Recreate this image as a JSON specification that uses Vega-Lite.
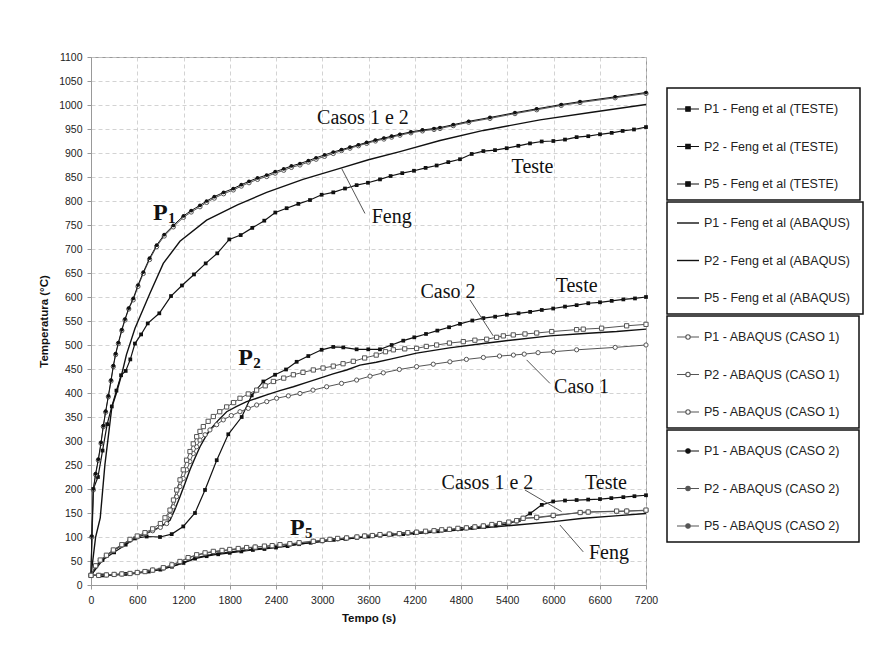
{
  "$schema": "https://vega.github.io/schema/vega-lite/v6.json",
  "width": 555,
  "height": 528,
  "autosize": "none",
  "padding": {"left": 91, "top": 57, "right": 240, "bottom": 73},
  "background": "white",
  "datasets": {
    "teste": [
      {"s":"P1 - Feng et al (TESTE)","t":0,"T":20},{"s":"P1 - Feng et al (TESTE)","t":30,"T":200},{"s":"P1 - Feng et al (TESTE)","t":90,"T":225},{"s":"P1 - Feng et al (TESTE)","t":150,"T":280},{"s":"P1 - Feng et al (TESTE)","t":210,"T":335},{"s":"P1 - Feng et al (TESTE)","t":270,"T":372},{"s":"P1 - Feng et al (TESTE)","t":330,"T":405},{"s":"P1 - Feng et al (TESTE)","t":390,"T":437},{"s":"P1 - Feng et al (TESTE)","t":450,"T":446},{"s":"P1 - Feng et al (TESTE)","t":510,"T":470},{"s":"P1 - Feng et al (TESTE)","t":570,"T":503},{"s":"P1 - Feng et al (TESTE)","t":650,"T":522},{"s":"P1 - Feng et al (TESTE)","t":736,"T":545},{"s":"P1 - Feng et al (TESTE)","t":886,"T":566},{"s":"P1 - Feng et al (TESTE)","t":1038,"T":602},{"s":"P1 - Feng et al (TESTE)","t":1180,"T":624},{"s":"P1 - Feng et al (TESTE)","t":1336,"T":647},{"s":"P1 - Feng et al (TESTE)","t":1488,"T":670},{"s":"P1 - Feng et al (TESTE)","t":1638,"T":691},{"s":"P1 - Feng et al (TESTE)","t":1794,"T":720},{"s":"P1 - Feng et al (TESTE)","t":1942,"T":729},{"s":"P1 - Feng et al (TESTE)","t":2092,"T":744},{"s":"P1 - Feng et al (TESTE)","t":2248,"T":759},{"s":"P1 - Feng et al (TESTE)","t":2391,"T":776},{"s":"P1 - Feng et al (TESTE)","t":2538,"T":785},{"s":"P1 - Feng et al (TESTE)","t":2690,"T":794},{"s":"P1 - Feng et al (TESTE)","t":2841,"T":802},{"s":"P1 - Feng et al (TESTE)","t":2992,"T":813},{"s":"P1 - Feng et al (TESTE)","t":3143,"T":818},{"s":"P1 - Feng et al (TESTE)","t":3295,"T":826},{"s":"P1 - Feng et al (TESTE)","t":3446,"T":833},{"s":"P1 - Feng et al (TESTE)","t":3593,"T":838},{"s":"P1 - Feng et al (TESTE)","t":3749,"T":845},{"s":"P1 - Feng et al (TESTE)","t":3887,"T":852},{"s":"P1 - Feng et al (TESTE)","t":4038,"T":858},{"s":"P1 - Feng et al (TESTE)","t":4190,"T":863},{"s":"P1 - Feng et al (TESTE)","t":4341,"T":869},{"s":"P1 - Feng et al (TESTE)","t":4484,"T":874},{"s":"P1 - Feng et al (TESTE)","t":4635,"T":881},{"s":"P1 - Feng et al (TESTE)","t":4787,"T":887},{"s":"P1 - Feng et al (TESTE)","t":4939,"T":898},{"s":"P1 - Feng et al (TESTE)","t":5090,"T":904},{"s":"P1 - Feng et al (TESTE)","t":5241,"T":906},{"s":"P1 - Feng et al (TESTE)","t":5393,"T":910},{"s":"P1 - Feng et al (TESTE)","t":5544,"T":915},{"s":"P1 - Feng et al (TESTE)","t":5695,"T":920},{"s":"P1 - Feng et al (TESTE)","t":5847,"T":924},{"s":"P1 - Feng et al (TESTE)","t":5998,"T":925},{"s":"P1 - Feng et al (TESTE)","t":6149,"T":928},{"s":"P1 - Feng et al (TESTE)","t":6300,"T":933},{"s":"P1 - Feng et al (TESTE)","t":6451,"T":935},{"s":"P1 - Feng et al (TESTE)","t":6603,"T":939},{"s":"P1 - Feng et al (TESTE)","t":6755,"T":942},{"s":"P1 - Feng et al (TESTE)","t":6897,"T":946},{"s":"P1 - Feng et al (TESTE)","t":7044,"T":949},{"s":"P1 - Feng et al (TESTE)","t":7200,"T":954},
      {"s":"P2 - Feng et al (TESTE)","t":0,"T":20},{"s":"P2 - Feng et al (TESTE)","t":150,"T":52},{"s":"P2 - Feng et al (TESTE)","t":300,"T":68},{"s":"P2 - Feng et al (TESTE)","t":450,"T":84},{"s":"P2 - Feng et al (TESTE)","t":571,"T":97},{"s":"P2 - Feng et al (TESTE)","t":722,"T":101},{"s":"P2 - Feng et al (TESTE)","t":895,"T":100},{"s":"P2 - Feng et al (TESTE)","t":1047,"T":106},{"s":"P2 - Feng et al (TESTE)","t":1197,"T":122},{"s":"P2 - Feng et al (TESTE)","t":1349,"T":150},{"s":"P2 - Feng et al (TESTE)","t":1479,"T":198},{"s":"P2 - Feng et al (TESTE)","t":1631,"T":260},{"s":"P2 - Feng et al (TESTE)","t":1781,"T":314},{"s":"P2 - Feng et al (TESTE)","t":1955,"T":350},{"s":"P2 - Feng et al (TESTE)","t":2085,"T":395},{"s":"P2 - Feng et al (TESTE)","t":2236,"T":424},{"s":"P2 - Feng et al (TESTE)","t":2388,"T":438},{"s":"P2 - Feng et al (TESTE)","t":2530,"T":449},{"s":"P2 - Feng et al (TESTE)","t":2668,"T":465},{"s":"P2 - Feng et al (TESTE)","t":2819,"T":477},{"s":"P2 - Feng et al (TESTE)","t":2992,"T":490},{"s":"P2 - Feng et al (TESTE)","t":3143,"T":496},{"s":"P2 - Feng et al (TESTE)","t":3273,"T":495},{"s":"P2 - Feng et al (TESTE)","t":3446,"T":491},{"s":"P2 - Feng et al (TESTE)","t":3597,"T":491},{"s":"P2 - Feng et al (TESTE)","t":3749,"T":491},{"s":"P2 - Feng et al (TESTE)","t":3900,"T":500},{"s":"P2 - Feng et al (TESTE)","t":4051,"T":509},{"s":"P2 - Feng et al (TESTE)","t":4194,"T":516},{"s":"P2 - Feng et al (TESTE)","t":4346,"T":523},{"s":"P2 - Feng et al (TESTE)","t":4493,"T":530},{"s":"P2 - Feng et al (TESTE)","t":4645,"T":537},{"s":"P2 - Feng et al (TESTE)","t":4787,"T":544},{"s":"P2 - Feng et al (TESTE)","t":4947,"T":551},{"s":"P2 - Feng et al (TESTE)","t":5090,"T":556},{"s":"P2 - Feng et al (TESTE)","t":5243,"T":559},{"s":"P2 - Feng et al (TESTE)","t":5395,"T":563},{"s":"P2 - Feng et al (TESTE)","t":5546,"T":566},{"s":"P2 - Feng et al (TESTE)","t":5697,"T":569},{"s":"P2 - Feng et al (TESTE)","t":5848,"T":573},{"s":"P2 - Feng et al (TESTE)","t":5996,"T":576},{"s":"P2 - Feng et al (TESTE)","t":6149,"T":580},{"s":"P2 - Feng et al (TESTE)","t":6300,"T":583},{"s":"P2 - Feng et al (TESTE)","t":6451,"T":587},{"s":"P2 - Feng et al (TESTE)","t":6603,"T":589},{"s":"P2 - Feng et al (TESTE)","t":6755,"T":592},{"s":"P2 - Feng et al (TESTE)","t":6906,"T":595},{"s":"P2 - Feng et al (TESTE)","t":7057,"T":597},{"s":"P2 - Feng et al (TESTE)","t":7200,"T":600},
      {"s":"P5 - Feng et al (TESTE)","t":0,"T":20},{"s":"P5 - Feng et al (TESTE)","t":150,"T":20},{"s":"P5 - Feng et al (TESTE)","t":300,"T":21},{"s":"P5 - Feng et al (TESTE)","t":450,"T":23},{"s":"P5 - Feng et al (TESTE)","t":600,"T":25},{"s":"P5 - Feng et al (TESTE)","t":750,"T":28},{"s":"P5 - Feng et al (TESTE)","t":900,"T":32},{"s":"P5 - Feng et al (TESTE)","t":1050,"T":38},{"s":"P5 - Feng et al (TESTE)","t":1200,"T":46},{"s":"P5 - Feng et al (TESTE)","t":1350,"T":55},{"s":"P5 - Feng et al (TESTE)","t":1500,"T":60},{"s":"P5 - Feng et al (TESTE)","t":1650,"T":64},{"s":"P5 - Feng et al (TESTE)","t":1800,"T":67},{"s":"P5 - Feng et al (TESTE)","t":1950,"T":70},{"s":"P5 - Feng et al (TESTE)","t":2100,"T":73},{"s":"P5 - Feng et al (TESTE)","t":2250,"T":75},{"s":"P5 - Feng et al (TESTE)","t":2400,"T":78},{"s":"P5 - Feng et al (TESTE)","t":2550,"T":81},{"s":"P5 - Feng et al (TESTE)","t":2700,"T":85},{"s":"P5 - Feng et al (TESTE)","t":2850,"T":88},{"s":"P5 - Feng et al (TESTE)","t":3000,"T":91},{"s":"P5 - Feng et al (TESTE)","t":3150,"T":94},{"s":"P5 - Feng et al (TESTE)","t":3300,"T":96},{"s":"P5 - Feng et al (TESTE)","t":3450,"T":98},{"s":"P5 - Feng et al (TESTE)","t":3600,"T":101},{"s":"P5 - Feng et al (TESTE)","t":3750,"T":103},{"s":"P5 - Feng et al (TESTE)","t":3900,"T":105},{"s":"P5 - Feng et al (TESTE)","t":4050,"T":106},{"s":"P5 - Feng et al (TESTE)","t":4200,"T":108},{"s":"P5 - Feng et al (TESTE)","t":4350,"T":110},{"s":"P5 - Feng et al (TESTE)","t":4500,"T":112},{"s":"P5 - Feng et al (TESTE)","t":4650,"T":115},{"s":"P5 - Feng et al (TESTE)","t":4800,"T":117},{"s":"P5 - Feng et al (TESTE)","t":4950,"T":119},{"s":"P5 - Feng et al (TESTE)","t":5100,"T":121},{"s":"P5 - Feng et al (TESTE)","t":5250,"T":124},{"s":"P5 - Feng et al (TESTE)","t":5400,"T":127},{"s":"P5 - Feng et al (TESTE)","t":5550,"T":135},{"s":"P5 - Feng et al (TESTE)","t":5697,"T":149},{"s":"P5 - Feng et al (TESTE)","t":5848,"T":167},{"s":"P5 - Feng et al (TESTE)","t":5996,"T":174},{"s":"P5 - Feng et al (TESTE)","t":6149,"T":176},{"s":"P5 - Feng et al (TESTE)","t":6300,"T":177},{"s":"P5 - Feng et al (TESTE)","t":6450,"T":178},{"s":"P5 - Feng et al (TESTE)","t":6603,"T":179},{"s":"P5 - Feng et al (TESTE)","t":6750,"T":181},{"s":"P5 - Feng et al (TESTE)","t":6906,"T":183},{"s":"P5 - Feng et al (TESTE)","t":7050,"T":185},{"s":"P5 - Feng et al (TESTE)","t":7200,"T":187}
    ],
    "feng": [
      {"s":"P1 - Feng et al (ABAQUS)","t":0,"T":20},{"s":"P1 - Feng et al (ABAQUS)","t":60,"T":100},{"s":"P1 - Feng et al (ABAQUS)","t":120,"T":140},{"s":"P1 - Feng et al (ABAQUS)","t":180,"T":250},{"s":"P1 - Feng et al (ABAQUS)","t":240,"T":330},{"s":"P1 - Feng et al (ABAQUS)","t":270,"T":370},{"s":"P1 - Feng et al (ABAQUS)","t":330,"T":400},{"s":"P1 - Feng et al (ABAQUS)","t":400,"T":440},{"s":"P1 - Feng et al (ABAQUS)","t":460,"T":480},{"s":"P1 - Feng et al (ABAQUS)","t":571,"T":535},{"s":"P1 - Feng et al (ABAQUS)","t":765,"T":608},{"s":"P1 - Feng et al (ABAQUS)","t":938,"T":670},{"s":"P1 - Feng et al (ABAQUS)","t":1154,"T":716},{"s":"P1 - Feng et al (ABAQUS)","t":1500,"T":760},{"s":"P1 - Feng et al (ABAQUS)","t":1900,"T":792},{"s":"P1 - Feng et al (ABAQUS)","t":2279,"T":818},{"s":"P1 - Feng et al (ABAQUS)","t":2750,"T":845},{"s":"P1 - Feng et al (ABAQUS)","t":3229,"T":868},{"s":"P1 - Feng et al (ABAQUS)","t":3600,"T":886},{"s":"P1 - Feng et al (ABAQUS)","t":4008,"T":903},{"s":"P1 - Feng et al (ABAQUS)","t":4528,"T":926},{"s":"P1 - Feng et al (ABAQUS)","t":5090,"T":947},{"s":"P1 - Feng et al (ABAQUS)","t":5825,"T":969},{"s":"P1 - Feng et al (ABAQUS)","t":6500,"T":985},{"s":"P1 - Feng et al (ABAQUS)","t":7200,"T":1001},
      {"s":"P2 - Feng et al (ABAQUS)","t":0,"T":20},{"s":"P2 - Feng et al (ABAQUS)","t":120,"T":51},{"s":"P2 - Feng et al (ABAQUS)","t":290,"T":72},{"s":"P2 - Feng et al (ABAQUS)","t":506,"T":93},{"s":"P2 - Feng et al (ABAQUS)","t":700,"T":106},{"s":"P2 - Feng et al (ABAQUS)","t":900,"T":121},{"s":"P2 - Feng et al (ABAQUS)","t":1025,"T":135},{"s":"P2 - Feng et al (ABAQUS)","t":1090,"T":158},{"s":"P2 - Feng et al (ABAQUS)","t":1154,"T":184},{"s":"P2 - Feng et al (ABAQUS)","t":1220,"T":212},{"s":"P2 - Feng et al (ABAQUS)","t":1284,"T":240},{"s":"P2 - Feng et al (ABAQUS)","t":1350,"T":265},{"s":"P2 - Feng et al (ABAQUS)","t":1414,"T":288},{"s":"P2 - Feng et al (ABAQUS)","t":1480,"T":307},{"s":"P2 - Feng et al (ABAQUS)","t":1543,"T":323},{"s":"P2 - Feng et al (ABAQUS)","t":1650,"T":343},{"s":"P2 - Feng et al (ABAQUS)","t":1760,"T":361},{"s":"P2 - Feng et al (ABAQUS)","t":1890,"T":372},{"s":"P2 - Feng et al (ABAQUS)","t":2019,"T":382},{"s":"P2 - Feng et al (ABAQUS)","t":2150,"T":389},{"s":"P2 - Feng et al (ABAQUS)","t":2279,"T":396},{"s":"P2 - Feng et al (ABAQUS)","t":2450,"T":405},{"s":"P2 - Feng et al (ABAQUS)","t":2625,"T":413},{"s":"P2 - Feng et al (ABAQUS)","t":2800,"T":422},{"s":"P2 - Feng et al (ABAQUS)","t":2971,"T":431},{"s":"P2 - Feng et al (ABAQUS)","t":3140,"T":440},{"s":"P2 - Feng et al (ABAQUS)","t":3316,"T":448},{"s":"P2 - Feng et al (ABAQUS)","t":3489,"T":458},{"s":"P2 - Feng et al (ABAQUS)","t":3700,"T":464},{"s":"P2 - Feng et al (ABAQUS)","t":3900,"T":471},{"s":"P2 - Feng et al (ABAQUS)","t":4224,"T":483},{"s":"P2 - Feng et al (ABAQUS)","t":4650,"T":494},{"s":"P2 - Feng et al (ABAQUS)","t":5090,"T":503},{"s":"P2 - Feng et al (ABAQUS)","t":5500,"T":511},{"s":"P2 - Feng et al (ABAQUS)","t":5954,"T":519},{"s":"P2 - Feng et al (ABAQUS)","t":6400,"T":524},{"s":"P2 - Feng et al (ABAQUS)","t":6819,"T":528},{"s":"P2 - Feng et al (ABAQUS)","t":7200,"T":533},
      {"s":"P5 - Feng et al (ABAQUS)","t":0,"T":20},{"s":"P5 - Feng et al (ABAQUS)","t":300,"T":21},{"s":"P5 - Feng et al (ABAQUS)","t":506,"T":23},{"s":"P5 - Feng et al (ABAQUS)","t":700,"T":27},{"s":"P5 - Feng et al (ABAQUS)","t":938,"T":34},{"s":"P5 - Feng et al (ABAQUS)","t":1154,"T":44},{"s":"P5 - Feng et al (ABAQUS)","t":1371,"T":57},{"s":"P5 - Feng et al (ABAQUS)","t":1587,"T":64},{"s":"P5 - Feng et al (ABAQUS)","t":2019,"T":73},{"s":"P5 - Feng et al (ABAQUS)","t":2452,"T":80},{"s":"P5 - Feng et al (ABAQUS)","t":2884,"T":89},{"s":"P5 - Feng et al (ABAQUS)","t":3316,"T":96},{"s":"P5 - Feng et al (ABAQUS)","t":3749,"T":103},{"s":"P5 - Feng et al (ABAQUS)","t":4224,"T":107},{"s":"P5 - Feng et al (ABAQUS)","t":4650,"T":113},{"s":"P5 - Feng et al (ABAQUS)","t":5090,"T":119},{"s":"P5 - Feng et al (ABAQUS)","t":5522,"T":125},{"s":"P5 - Feng et al (ABAQUS)","t":6000,"T":132},{"s":"P5 - Feng et al (ABAQUS)","t":6386,"T":139},{"s":"P5 - Feng et al (ABAQUS)","t":6800,"T":144},{"s":"P5 - Feng et al (ABAQUS)","t":7200,"T":149}
    ],
    "caso1": [
      {"s":"P1 - ABAQUS (CASO 1)","t":0,"T":20},{"s":"P1 - ABAQUS (CASO 1)","t":10,"T":100},{"s":"P1 - ABAQUS (CASO 1)","t":30,"T":198},{"s":"P1 - ABAQUS (CASO 1)","t":60,"T":230},{"s":"P1 - ABAQUS (CASO 1)","t":95,"T":260},{"s":"P1 - ABAQUS (CASO 1)","t":130,"T":295},{"s":"P1 - ABAQUS (CASO 1)","t":160,"T":330},{"s":"P1 - ABAQUS (CASO 1)","t":190,"T":360},{"s":"P1 - ABAQUS (CASO 1)","t":225,"T":392},{"s":"P1 - ABAQUS (CASO 1)","t":260,"T":425},{"s":"P1 - ABAQUS (CASO 1)","t":290,"T":455},{"s":"P1 - ABAQUS (CASO 1)","t":320,"T":480},{"s":"P1 - ABAQUS (CASO 1)","t":355,"T":503},{"s":"P1 - ABAQUS (CASO 1)","t":400,"T":530},{"s":"P1 - ABAQUS (CASO 1)","t":441,"T":552},{"s":"P1 - ABAQUS (CASO 1)","t":490,"T":575},{"s":"P1 - ABAQUS (CASO 1)","t":548,"T":594},{"s":"P1 - ABAQUS (CASO 1)","t":610,"T":622},{"s":"P1 - ABAQUS (CASO 1)","t":679,"T":649},{"s":"P1 - ABAQUS (CASO 1)","t":760,"T":678},{"s":"P1 - ABAQUS (CASO 1)","t":852,"T":705},{"s":"P1 - ABAQUS (CASO 1)","t":950,"T":727},{"s":"P1 - ABAQUS (CASO 1)","t":1068,"T":746},{"s":"P1 - ABAQUS (CASO 1)","t":1200,"T":766},{"s":"P1 - ABAQUS (CASO 1)","t":1300,"T":777},{"s":"P1 - ABAQUS (CASO 1)","t":1414,"T":788},{"s":"P1 - ABAQUS (CASO 1)","t":1500,"T":797},{"s":"P1 - ABAQUS (CASO 1)","t":1600,"T":806},{"s":"P1 - ABAQUS (CASO 1)","t":1720,"T":815},{"s":"P1 - ABAQUS (CASO 1)","t":1846,"T":823},{"s":"P1 - ABAQUS (CASO 1)","t":1950,"T":831},{"s":"P1 - ABAQUS (CASO 1)","t":2050,"T":838},{"s":"P1 - ABAQUS (CASO 1)","t":2160,"T":845},{"s":"P1 - ABAQUS (CASO 1)","t":2279,"T":851},{"s":"P1 - ABAQUS (CASO 1)","t":2390,"T":858},{"s":"P1 - ABAQUS (CASO 1)","t":2500,"T":864},{"s":"P1 - ABAQUS (CASO 1)","t":2600,"T":870},{"s":"P1 - ABAQUS (CASO 1)","t":2711,"T":875},{"s":"P1 - ABAQUS (CASO 1)","t":2820,"T":881},{"s":"P1 - ABAQUS (CASO 1)","t":2920,"T":887},{"s":"P1 - ABAQUS (CASO 1)","t":3030,"T":893},{"s":"P1 - ABAQUS (CASO 1)","t":3143,"T":899},{"s":"P1 - ABAQUS (CASO 1)","t":3250,"T":905},{"s":"P1 - ABAQUS (CASO 1)","t":3360,"T":910},{"s":"P1 - ABAQUS (CASO 1)","t":3470,"T":915},{"s":"P1 - ABAQUS (CASO 1)","t":3576,"T":920},{"s":"P1 - ABAQUS (CASO 1)","t":3690,"T":925},{"s":"P1 - ABAQUS (CASO 1)","t":3800,"T":929},{"s":"P1 - ABAQUS (CASO 1)","t":3900,"T":933},{"s":"P1 - ABAQUS (CASO 1)","t":4008,"T":937},{"s":"P1 - ABAQUS (CASO 1)","t":4150,"T":942},{"s":"P1 - ABAQUS (CASO 1)","t":4300,"T":946},{"s":"P1 - ABAQUS (CASO 1)","t":4450,"T":949},{"s":"P1 - ABAQUS (CASO 1)","t":4528,"T":951},{"s":"P1 - ABAQUS (CASO 1)","t":4700,"T":957},{"s":"P1 - ABAQUS (CASO 1)","t":4900,"T":964},{"s":"P1 - ABAQUS (CASO 1)","t":5176,"T":972},{"s":"P1 - ABAQUS (CASO 1)","t":5500,"T":982},{"s":"P1 - ABAQUS (CASO 1)","t":5782,"T":990},{"s":"P1 - ABAQUS (CASO 1)","t":6100,"T":999},{"s":"P1 - ABAQUS (CASO 1)","t":6344,"T":1005},{"s":"P1 - ABAQUS (CASO 1)","t":6800,"T":1015},{"s":"P1 - ABAQUS (CASO 1)","t":7200,"T":1024},
      {"s":"P2 - ABAQUS (CASO 1)","t":0,"T":20},{"s":"P2 - ABAQUS (CASO 1)","t":60,"T":40},{"s":"P2 - ABAQUS (CASO 1)","t":120,"T":51},{"s":"P2 - ABAQUS (CASO 1)","t":200,"T":61},{"s":"P2 - ABAQUS (CASO 1)","t":290,"T":72},{"s":"P2 - ABAQUS (CASO 1)","t":400,"T":83},{"s":"P2 - ABAQUS (CASO 1)","t":506,"T":93},{"s":"P2 - ABAQUS (CASO 1)","t":600,"T":100},{"s":"P2 - ABAQUS (CASO 1)","t":700,"T":107},{"s":"P2 - ABAQUS (CASO 1)","t":800,"T":113},{"s":"P2 - ABAQUS (CASO 1)","t":900,"T":120},{"s":"P2 - ABAQUS (CASO 1)","t":982,"T":128},{"s":"P2 - ABAQUS (CASO 1)","t":1025,"T":145},{"s":"P2 - ABAQUS (CASO 1)","t":1068,"T":163},{"s":"P2 - ABAQUS (CASO 1)","t":1110,"T":184},{"s":"P2 - ABAQUS (CASO 1)","t":1154,"T":205},{"s":"P2 - ABAQUS (CASO 1)","t":1197,"T":222},{"s":"P2 - ABAQUS (CASO 1)","t":1241,"T":240},{"s":"P2 - ABAQUS (CASO 1)","t":1284,"T":257},{"s":"P2 - ABAQUS (CASO 1)","t":1327,"T":274},{"s":"P2 - ABAQUS (CASO 1)","t":1370,"T":288},{"s":"P2 - ABAQUS (CASO 1)","t":1414,"T":302},{"s":"P2 - ABAQUS (CASO 1)","t":1480,"T":313},{"s":"P2 - ABAQUS (CASO 1)","t":1543,"T":323},{"s":"P2 - ABAQUS (CASO 1)","t":1630,"T":334},{"s":"P2 - ABAQUS (CASO 1)","t":1716,"T":344},{"s":"P2 - ABAQUS (CASO 1)","t":1820,"T":353},{"s":"P2 - ABAQUS (CASO 1)","t":1933,"T":361},{"s":"P2 - ABAQUS (CASO 1)","t":2040,"T":368},{"s":"P2 - ABAQUS (CASO 1)","t":2149,"T":375},{"s":"P2 - ABAQUS (CASO 1)","t":2280,"T":382},{"s":"P2 - ABAQUS (CASO 1)","t":2408,"T":389},{"s":"P2 - ABAQUS (CASO 1)","t":2560,"T":394},{"s":"P2 - ABAQUS (CASO 1)","t":2711,"T":399},{"s":"P2 - ABAQUS (CASO 1)","t":2880,"T":406},{"s":"P2 - ABAQUS (CASO 1)","t":3057,"T":413},{"s":"P2 - ABAQUS (CASO 1)","t":3250,"T":420},{"s":"P2 - ABAQUS (CASO 1)","t":3446,"T":427},{"s":"P2 - ABAQUS (CASO 1)","t":3620,"T":435},{"s":"P2 - ABAQUS (CASO 1)","t":3792,"T":442},{"s":"P2 - ABAQUS (CASO 1)","t":4000,"T":449},{"s":"P2 - ABAQUS (CASO 1)","t":4224,"T":455},{"s":"P2 - ABAQUS (CASO 1)","t":4440,"T":460},{"s":"P2 - ABAQUS (CASO 1)","t":4656,"T":465},{"s":"P2 - ABAQUS (CASO 1)","t":4870,"T":470},{"s":"P2 - ABAQUS (CASO 1)","t":5090,"T":474},{"s":"P2 - ABAQUS (CASO 1)","t":5300,"T":477},{"s":"P2 - ABAQUS (CASO 1)","t":5480,"T":479},{"s":"P2 - ABAQUS (CASO 1)","t":5620,"T":481},{"s":"P2 - ABAQUS (CASO 1)","t":5800,"T":484},{"s":"P2 - ABAQUS (CASO 1)","t":6000,"T":486},{"s":"P2 - ABAQUS (CASO 1)","t":6300,"T":490},{"s":"P2 - ABAQUS (CASO 1)","t":6800,"T":495},{"s":"P2 - ABAQUS (CASO 1)","t":7200,"T":500},
      {"s":"P5 - ABAQUS (CASO 1)","t":0,"T":20},{"s":"P5 - ABAQUS (CASO 1)","t":100,"T":20},{"s":"P5 - ABAQUS (CASO 1)","t":200,"T":21},{"s":"P5 - ABAQUS (CASO 1)","t":300,"T":22},{"s":"P5 - ABAQUS (CASO 1)","t":400,"T":23},{"s":"P5 - ABAQUS (CASO 1)","t":506,"T":24},{"s":"P5 - ABAQUS (CASO 1)","t":600,"T":26},{"s":"P5 - ABAQUS (CASO 1)","t":700,"T":28},{"s":"P5 - ABAQUS (CASO 1)","t":800,"T":31},{"s":"P5 - ABAQUS (CASO 1)","t":938,"T":35},{"s":"P5 - ABAQUS (CASO 1)","t":1050,"T":41},{"s":"P5 - ABAQUS (CASO 1)","t":1154,"T":48},{"s":"P5 - ABAQUS (CASO 1)","t":1260,"T":56},{"s":"P5 - ABAQUS (CASO 1)","t":1371,"T":62},{"s":"P5 - ABAQUS (CASO 1)","t":1480,"T":66},{"s":"P5 - ABAQUS (CASO 1)","t":1587,"T":69},{"s":"P5 - ABAQUS (CASO 1)","t":1700,"T":71},{"s":"P5 - ABAQUS (CASO 1)","t":1800,"T":73},{"s":"P5 - ABAQUS (CASO 1)","t":1910,"T":75},{"s":"P5 - ABAQUS (CASO 1)","t":2019,"T":77},{"s":"P5 - ABAQUS (CASO 1)","t":2130,"T":79},{"s":"P5 - ABAQUS (CASO 1)","t":2250,"T":80},{"s":"P5 - ABAQUS (CASO 1)","t":2350,"T":82},{"s":"P5 - ABAQUS (CASO 1)","t":2452,"T":83},{"s":"P5 - ABAQUS (CASO 1)","t":2580,"T":85},{"s":"P5 - ABAQUS (CASO 1)","t":2700,"T":88},{"s":"P5 - ABAQUS (CASO 1)","t":2884,"T":91},{"s":"P5 - ABAQUS (CASO 1)","t":3000,"T":93},{"s":"P5 - ABAQUS (CASO 1)","t":3100,"T":95},{"s":"P5 - ABAQUS (CASO 1)","t":3200,"T":96},{"s":"P5 - ABAQUS (CASO 1)","t":3316,"T":98},{"s":"P5 - ABAQUS (CASO 1)","t":3450,"T":100},{"s":"P5 - ABAQUS (CASO 1)","t":3550,"T":102},{"s":"P5 - ABAQUS (CASO 1)","t":3650,"T":103},{"s":"P5 - ABAQUS (CASO 1)","t":3749,"T":105},{"s":"P5 - ABAQUS (CASO 1)","t":3870,"T":106},{"s":"P5 - ABAQUS (CASO 1)","t":4000,"T":107},{"s":"P5 - ABAQUS (CASO 1)","t":4110,"T":108},{"s":"P5 - ABAQUS (CASO 1)","t":4224,"T":110},{"s":"P5 - ABAQUS (CASO 1)","t":4340,"T":111},{"s":"P5 - ABAQUS (CASO 1)","t":4450,"T":113},{"s":"P5 - ABAQUS (CASO 1)","t":4550,"T":114},{"s":"P5 - ABAQUS (CASO 1)","t":4650,"T":116},{"s":"P5 - ABAQUS (CASO 1)","t":4760,"T":117},{"s":"P5 - ABAQUS (CASO 1)","t":4870,"T":119},{"s":"P5 - ABAQUS (CASO 1)","t":4980,"T":121},{"s":"P5 - ABAQUS (CASO 1)","t":5090,"T":123},{"s":"P5 - ABAQUS (CASO 1)","t":5200,"T":125},{"s":"P5 - ABAQUS (CASO 1)","t":5300,"T":128},{"s":"P5 - ABAQUS (CASO 1)","t":5420,"T":130},{"s":"P5 - ABAQUS (CASO 1)","t":5522,"T":133},{"s":"P5 - ABAQUS (CASO 1)","t":5606,"T":139},{"s":"P5 - ABAQUS (CASO 1)","t":5782,"T":140},{"s":"P5 - ABAQUS (CASO 1)","t":5996,"T":144},{"s":"P5 - ABAQUS (CASO 1)","t":6346,"T":151},{"s":"P5 - ABAQUS (CASO 1)","t":6450,"T":152},{"s":"P5 - ABAQUS (CASO 1)","t":6819,"T":153},{"s":"P5 - ABAQUS (CASO 1)","t":6950,"T":154},{"s":"P5 - ABAQUS (CASO 1)","t":7200,"T":155}
    ],
    "caso2": [
      {"s":"P1 - ABAQUS (CASO 2)","t":0,"T":20},{"s":"P1 - ABAQUS (CASO 2)","t":10,"T":102},{"s":"P1 - ABAQUS (CASO 2)","t":30,"T":200},{"s":"P1 - ABAQUS (CASO 2)","t":60,"T":232},{"s":"P1 - ABAQUS (CASO 2)","t":95,"T":262},{"s":"P1 - ABAQUS (CASO 2)","t":130,"T":297},{"s":"P1 - ABAQUS (CASO 2)","t":160,"T":332},{"s":"P1 - ABAQUS (CASO 2)","t":190,"T":362},{"s":"P1 - ABAQUS (CASO 2)","t":225,"T":394},{"s":"P1 - ABAQUS (CASO 2)","t":260,"T":427},{"s":"P1 - ABAQUS (CASO 2)","t":290,"T":457},{"s":"P1 - ABAQUS (CASO 2)","t":320,"T":482},{"s":"P1 - ABAQUS (CASO 2)","t":355,"T":505},{"s":"P1 - ABAQUS (CASO 2)","t":400,"T":532},{"s":"P1 - ABAQUS (CASO 2)","t":441,"T":554},{"s":"P1 - ABAQUS (CASO 2)","t":490,"T":577},{"s":"P1 - ABAQUS (CASO 2)","t":548,"T":597},{"s":"P1 - ABAQUS (CASO 2)","t":610,"T":625},{"s":"P1 - ABAQUS (CASO 2)","t":679,"T":652},{"s":"P1 - ABAQUS (CASO 2)","t":760,"T":681},{"s":"P1 - ABAQUS (CASO 2)","t":852,"T":708},{"s":"P1 - ABAQUS (CASO 2)","t":950,"T":730},{"s":"P1 - ABAQUS (CASO 2)","t":1068,"T":749},{"s":"P1 - ABAQUS (CASO 2)","t":1200,"T":769},{"s":"P1 - ABAQUS (CASO 2)","t":1300,"T":780},{"s":"P1 - ABAQUS (CASO 2)","t":1414,"T":791},{"s":"P1 - ABAQUS (CASO 2)","t":1500,"T":800},{"s":"P1 - ABAQUS (CASO 2)","t":1600,"T":809},{"s":"P1 - ABAQUS (CASO 2)","t":1720,"T":818},{"s":"P1 - ABAQUS (CASO 2)","t":1846,"T":826},{"s":"P1 - ABAQUS (CASO 2)","t":1950,"T":834},{"s":"P1 - ABAQUS (CASO 2)","t":2050,"T":841},{"s":"P1 - ABAQUS (CASO 2)","t":2160,"T":848},{"s":"P1 - ABAQUS (CASO 2)","t":2279,"T":854},{"s":"P1 - ABAQUS (CASO 2)","t":2390,"T":861},{"s":"P1 - ABAQUS (CASO 2)","t":2500,"T":867},{"s":"P1 - ABAQUS (CASO 2)","t":2600,"T":873},{"s":"P1 - ABAQUS (CASO 2)","t":2711,"T":878},{"s":"P1 - ABAQUS (CASO 2)","t":2820,"T":884},{"s":"P1 - ABAQUS (CASO 2)","t":2920,"T":890},{"s":"P1 - ABAQUS (CASO 2)","t":3030,"T":896},{"s":"P1 - ABAQUS (CASO 2)","t":3143,"T":902},{"s":"P1 - ABAQUS (CASO 2)","t":3250,"T":907},{"s":"P1 - ABAQUS (CASO 2)","t":3360,"T":912},{"s":"P1 - ABAQUS (CASO 2)","t":3470,"T":917},{"s":"P1 - ABAQUS (CASO 2)","t":3576,"T":922},{"s":"P1 - ABAQUS (CASO 2)","t":3690,"T":927},{"s":"P1 - ABAQUS (CASO 2)","t":3800,"T":931},{"s":"P1 - ABAQUS (CASO 2)","t":3900,"T":935},{"s":"P1 - ABAQUS (CASO 2)","t":4008,"T":939},{"s":"P1 - ABAQUS (CASO 2)","t":4150,"T":944},{"s":"P1 - ABAQUS (CASO 2)","t":4300,"T":948},{"s":"P1 - ABAQUS (CASO 2)","t":4450,"T":951},{"s":"P1 - ABAQUS (CASO 2)","t":4528,"T":953},{"s":"P1 - ABAQUS (CASO 2)","t":4700,"T":959},{"s":"P1 - ABAQUS (CASO 2)","t":4900,"T":966},{"s":"P1 - ABAQUS (CASO 2)","t":5176,"T":974},{"s":"P1 - ABAQUS (CASO 2)","t":5500,"T":984},{"s":"P1 - ABAQUS (CASO 2)","t":5782,"T":992},{"s":"P1 - ABAQUS (CASO 2)","t":6100,"T":1001},{"s":"P1 - ABAQUS (CASO 2)","t":6344,"T":1007},{"s":"P1 - ABAQUS (CASO 2)","t":6800,"T":1017},{"s":"P1 - ABAQUS (CASO 2)","t":7200,"T":1026},
      {"s":"P2 - ABAQUS (CASO 2)","t":0,"T":20},{"s":"P2 - ABAQUS (CASO 2)","t":60,"T":40},{"s":"P2 - ABAQUS (CASO 2)","t":120,"T":52},{"s":"P2 - ABAQUS (CASO 2)","t":200,"T":62},{"s":"P2 - ABAQUS (CASO 2)","t":290,"T":73},{"s":"P2 - ABAQUS (CASO 2)","t":400,"T":84},{"s":"P2 - ABAQUS (CASO 2)","t":506,"T":95},{"s":"P2 - ABAQUS (CASO 2)","t":600,"T":102},{"s":"P2 - ABAQUS (CASO 2)","t":700,"T":109},{"s":"P2 - ABAQUS (CASO 2)","t":800,"T":117},{"s":"P2 - ABAQUS (CASO 2)","t":900,"T":128},{"s":"P2 - ABAQUS (CASO 2)","t":960,"T":140},{"s":"P2 - ABAQUS (CASO 2)","t":1025,"T":156},{"s":"P2 - ABAQUS (CASO 2)","t":1070,"T":177},{"s":"P2 - ABAQUS (CASO 2)","t":1112,"T":198},{"s":"P2 - ABAQUS (CASO 2)","t":1155,"T":219},{"s":"P2 - ABAQUS (CASO 2)","t":1197,"T":240},{"s":"P2 - ABAQUS (CASO 2)","t":1240,"T":260},{"s":"P2 - ABAQUS (CASO 2)","t":1284,"T":278},{"s":"P2 - ABAQUS (CASO 2)","t":1327,"T":294},{"s":"P2 - ABAQUS (CASO 2)","t":1371,"T":309},{"s":"P2 - ABAQUS (CASO 2)","t":1414,"T":320},{"s":"P2 - ABAQUS (CASO 2)","t":1457,"T":330},{"s":"P2 - ABAQUS (CASO 2)","t":1520,"T":341},{"s":"P2 - ABAQUS (CASO 2)","t":1587,"T":351},{"s":"P2 - ABAQUS (CASO 2)","t":1670,"T":361},{"s":"P2 - ABAQUS (CASO 2)","t":1760,"T":371},{"s":"P2 - ABAQUS (CASO 2)","t":1850,"T":380},{"s":"P2 - ABAQUS (CASO 2)","t":1933,"T":389},{"s":"P2 - ABAQUS (CASO 2)","t":2040,"T":398},{"s":"P2 - ABAQUS (CASO 2)","t":2149,"T":406},{"s":"P2 - ABAQUS (CASO 2)","t":2260,"T":415},{"s":"P2 - ABAQUS (CASO 2)","t":2366,"T":424},{"s":"P2 - ABAQUS (CASO 2)","t":2500,"T":431},{"s":"P2 - ABAQUS (CASO 2)","t":2625,"T":438},{"s":"P2 - ABAQUS (CASO 2)","t":2750,"T":443},{"s":"P2 - ABAQUS (CASO 2)","t":2884,"T":448},{"s":"P2 - ABAQUS (CASO 2)","t":3010,"T":452},{"s":"P2 - ABAQUS (CASO 2)","t":3143,"T":456},{"s":"P2 - ABAQUS (CASO 2)","t":3270,"T":461},{"s":"P2 - ABAQUS (CASO 2)","t":3403,"T":466},{"s":"P2 - ABAQUS (CASO 2)","t":3550,"T":473},{"s":"P2 - ABAQUS (CASO 2)","t":3700,"T":479},{"s":"P2 - ABAQUS (CASO 2)","t":3820,"T":486},{"s":"P2 - ABAQUS (CASO 2)","t":3922,"T":490},{"s":"P2 - ABAQUS (CASO 2)","t":4070,"T":492},{"s":"P2 - ABAQUS (CASO 2)","t":4224,"T":493},{"s":"P2 - ABAQUS (CASO 2)","t":4350,"T":497},{"s":"P2 - ABAQUS (CASO 2)","t":4484,"T":500},{"s":"P2 - ABAQUS (CASO 2)","t":4650,"T":504},{"s":"P2 - ABAQUS (CASO 2)","t":4830,"T":507},{"s":"P2 - ABAQUS (CASO 2)","t":4980,"T":510},{"s":"P2 - ABAQUS (CASO 2)","t":5133,"T":512},{"s":"P2 - ABAQUS (CASO 2)","t":5262,"T":516},{"s":"P2 - ABAQUS (CASO 2)","t":5349,"T":519},{"s":"P2 - ABAQUS (CASO 2)","t":5478,"T":521},{"s":"P2 - ABAQUS (CASO 2)","t":5630,"T":523},{"s":"P2 - ABAQUS (CASO 2)","t":5782,"T":525},{"s":"P2 - ABAQUS (CASO 2)","t":5977,"T":528},{"s":"P2 - ABAQUS (CASO 2)","t":6300,"T":532},{"s":"P2 - ABAQUS (CASO 2)","t":6386,"T":533},{"s":"P2 - ABAQUS (CASO 2)","t":6624,"T":535},{"s":"P2 - ABAQUS (CASO 2)","t":6949,"T":540},{"s":"P2 - ABAQUS (CASO 2)","t":7200,"T":543},
      {"s":"P5 - ABAQUS (CASO 2)","t":0,"T":20},{"s":"P5 - ABAQUS (CASO 2)","t":100,"T":20},{"s":"P5 - ABAQUS (CASO 2)","t":200,"T":21},{"s":"P5 - ABAQUS (CASO 2)","t":300,"T":22},{"s":"P5 - ABAQUS (CASO 2)","t":400,"T":23},{"s":"P5 - ABAQUS (CASO 2)","t":506,"T":24},{"s":"P5 - ABAQUS (CASO 2)","t":600,"T":26},{"s":"P5 - ABAQUS (CASO 2)","t":700,"T":28},{"s":"P5 - ABAQUS (CASO 2)","t":800,"T":31},{"s":"P5 - ABAQUS (CASO 2)","t":938,"T":36},{"s":"P5 - ABAQUS (CASO 2)","t":1050,"T":42},{"s":"P5 - ABAQUS (CASO 2)","t":1154,"T":49},{"s":"P5 - ABAQUS (CASO 2)","t":1260,"T":57},{"s":"P5 - ABAQUS (CASO 2)","t":1371,"T":63},{"s":"P5 - ABAQUS (CASO 2)","t":1480,"T":67},{"s":"P5 - ABAQUS (CASO 2)","t":1587,"T":70},{"s":"P5 - ABAQUS (CASO 2)","t":1700,"T":72},{"s":"P5 - ABAQUS (CASO 2)","t":1800,"T":74},{"s":"P5 - ABAQUS (CASO 2)","t":1910,"T":76},{"s":"P5 - ABAQUS (CASO 2)","t":2019,"T":78},{"s":"P5 - ABAQUS (CASO 2)","t":2130,"T":79},{"s":"P5 - ABAQUS (CASO 2)","t":2250,"T":81},{"s":"P5 - ABAQUS (CASO 2)","t":2350,"T":82},{"s":"P5 - ABAQUS (CASO 2)","t":2452,"T":84},{"s":"P5 - ABAQUS (CASO 2)","t":2580,"T":86},{"s":"P5 - ABAQUS (CASO 2)","t":2700,"T":88},{"s":"P5 - ABAQUS (CASO 2)","t":2884,"T":91},{"s":"P5 - ABAQUS (CASO 2)","t":3000,"T":93},{"s":"P5 - ABAQUS (CASO 2)","t":3100,"T":95},{"s":"P5 - ABAQUS (CASO 2)","t":3200,"T":97},{"s":"P5 - ABAQUS (CASO 2)","t":3316,"T":98},{"s":"P5 - ABAQUS (CASO 2)","t":3450,"T":100},{"s":"P5 - ABAQUS (CASO 2)","t":3550,"T":102},{"s":"P5 - ABAQUS (CASO 2)","t":3650,"T":103},{"s":"P5 - ABAQUS (CASO 2)","t":3749,"T":105},{"s":"P5 - ABAQUS (CASO 2)","t":3870,"T":106},{"s":"P5 - ABAQUS (CASO 2)","t":4000,"T":107},{"s":"P5 - ABAQUS (CASO 2)","t":4110,"T":109},{"s":"P5 - ABAQUS (CASO 2)","t":4224,"T":110},{"s":"P5 - ABAQUS (CASO 2)","t":4340,"T":112},{"s":"P5 - ABAQUS (CASO 2)","t":4450,"T":113},{"s":"P5 - ABAQUS (CASO 2)","t":4550,"T":115},{"s":"P5 - ABAQUS (CASO 2)","t":4650,"T":116},{"s":"P5 - ABAQUS (CASO 2)","t":4760,"T":118},{"s":"P5 - ABAQUS (CASO 2)","t":4870,"T":119},{"s":"P5 - ABAQUS (CASO 2)","t":4980,"T":121},{"s":"P5 - ABAQUS (CASO 2)","t":5090,"T":123},{"s":"P5 - ABAQUS (CASO 2)","t":5200,"T":126},{"s":"P5 - ABAQUS (CASO 2)","t":5300,"T":128},{"s":"P5 - ABAQUS (CASO 2)","t":5420,"T":131},{"s":"P5 - ABAQUS (CASO 2)","t":5522,"T":134},{"s":"P5 - ABAQUS (CASO 2)","t":5606,"T":139},{"s":"P5 - ABAQUS (CASO 2)","t":5782,"T":141},{"s":"P5 - ABAQUS (CASO 2)","t":5996,"T":145},{"s":"P5 - ABAQUS (CASO 2)","t":6346,"T":151},{"s":"P5 - ABAQUS (CASO 2)","t":6450,"T":152},{"s":"P5 - ABAQUS (CASO 2)","t":6819,"T":154},{"s":"P5 - ABAQUS (CASO 2)","t":6950,"T":154},{"s":"P5 - ABAQUS (CASO 2)","t":7200,"T":156}
    ],
    "ann": [
      {"t":3528,"T":973,"label":"Casos 1 e 2"},
      {"t":3900,"T":766,"label":"Feng"},
      {"t":5728,"T":871,"label":"Teste"},
      {"t":4631,"T":611,"label":"Caso 2"},
      {"t":6300,"T":623,"label":"Teste"},
      {"t":6364,"T":413,"label":"Caso 1"},
      {"t":5143,"T":212,"label":"Casos 1 e 2"},
      {"t":6680,"T":213,"label":"Teste"},
      {"t":6720,"T":67,"label":"Feng"}
    ],
    "plabels": [
      {"t":804,"T":760,"sub":"1"},
      {"t":1911,"T":458,"sub":"2"},
      {"t":2582,"T":104,"sub":"5"}
    ],
    "leaders": [
      {"t":3251,"T":868,"t2":3554,"T2":774},
      {"t":4916,"T":594,"t2":5218,"T2":519},
      {"t":5651,"T":469,"t2":5954,"T2":420},
      {"t":5629,"T":198,"t2":6105,"T2":153},
      {"t":6083,"T":125,"t2":6386,"T2":69}
    ]
  },
  "encoding": {
    "x": {
      "field": "t", "type": "quantitative", "title": "Tempo (s)",
      "scale": {"domain": [0, 7200], "nice": false, "zero": false},
      "axis": {"values": [0,600,1200,1800,2400,3000,3600,4200,4800,5400,6000,6600,7200], "labelFlush": false, "format": "d"}
    },
    "y": {
      "field": "T", "type": "quantitative", "title": "Temperatura (°C)",
      "scale": {"domain": [0, 1100], "nice": false, "zero": false},
      "axis": {"values": [0,50,100,150,200,250,300,350,400,450,500,550,600,650,700,750,800,850,900,950,1000,1050,1100], "format": "d"}
    }
  },
  "layer": [
    {
      "data": {"name": "teste"},
      "mark": {"type": "line", "strokeWidth": 1.2, "point": {"filled": true, "shape": "square", "size": 14}},
      "encoding": {
        "color": {
          "field": "s", "type": "nominal",
          "scale": {"domain": ["P1 - Feng et al (TESTE)","P2 - Feng et al (TESTE)","P5 - Feng et al (TESTE)"], "range": ["#111","#111","#111"]},
          "legend": {
            "orient": "none", "legendX": 576, "legendY": 31, "title": "\u00a0", "titleOrient": "right", "titleFontSize": 1, "titlePadding": 13,
            "symbolType": "M-1,0H1M-0.2,-0.2H0.2V0.2H-0.2Z", "symbolSize": 484, "symbolStrokeWidth": 1.2,
            "encode": {"symbols": {"update": {"fill": {"value": "#111"}, "stroke": {"value": "#111"}}}}
          }
        }
      }
    },
    {
      "data": {"name": "feng"},
      "mark": {"type": "line", "strokeWidth": 1.4},
      "encoding": {
        "color": {
          "field": "s", "type": "nominal",
          "scale": {"domain": ["P1 - Feng et al (ABAQUS)","P2 - Feng et al (ABAQUS)","P5 - Feng et al (ABAQUS)"], "range": ["#111","#111","#111"]},
          "legend": {
            "orient": "none", "legendX": 576, "legendY": 145, "title": "\u00a0", "titleOrient": "right", "titleFontSize": 1, "titlePadding": 4,
            "symbolType": "M-1,0H1", "symbolSize": 484, "symbolStrokeWidth": 1.4,
            "encode": {"symbols": {"update": {"fill": {"value": "transparent"}, "stroke": {"value": "#111"}}}}
          }
        }
      }
    },
    {
      "data": {"name": "caso1"},
      "mark": {"type": "line", "strokeWidth": 1, "point": {"filled": false, "fill": "white", "shape": "circle", "size": 18, "strokeWidth": 1}},
      "encoding": {
        "color": {
          "field": "s", "type": "nominal",
          "scale": {"domain": ["P1 - ABAQUS (CASO 1)","P2 - ABAQUS (CASO 1)","P5 - ABAQUS (CASO 1)"], "range": ["#555","#555","#555"]},
          "legend": {
            "orient": "none", "legendX": 576, "legendY": 259, "title": "\u00a0", "titleOrient": "right", "titleFontSize": 1, "titlePadding": 10,
            "symbolType": "M-1,0H-0.2M0.2,0H1M-0.2,0A0.2,0.2,0,1,0,0.2,0A0.2,0.2,0,1,0,-0.2,0Z", "symbolSize": 484, "symbolStrokeWidth": 1.1,
            "encode": {"symbols": {"update": {"fill": {"value": "white"}, "stroke": {"value": "#555"}}}}
          }
        }
      }
    },
    {
      "data": {"name": "caso2"},
      "encoding": {
        "color": {
          "field": "s", "type": "nominal",
          "scale": {"domain": ["P1 - ABAQUS (CASO 2)","P2 - ABAQUS (CASO 2)","P5 - ABAQUS (CASO 2)"], "range": ["#111","#555","#555"]},
          "legend": {
            "orient": "none", "legendX": 576, "legendY": 373, "title": "\u00a0", "titleOrient": "right", "titleFontSize": 1, "titlePadding": 10,
            "symbolType": "M-1,0H-0.2M0.2,0H1M-0.2,0A0.2,0.2,0,1,0,0.2,0A0.2,0.2,0,1,0,-0.2,0Z", "symbolSize": 484, "symbolStrokeWidth": 1.1,
            "encode": {"symbols": {"update": {
              "fill": {"signal": "datum.value === 'P1 - ABAQUS (CASO 2)' ? '#111' : 'white'"},
              "stroke": {"signal": "datum.value === 'P1 - ABAQUS (CASO 2)' ? '#111' : '#555'"}
            }}}
          }
        }
      },
      "layer": [
        {
          "transform": [{"filter": "datum.s === 'P1 - ABAQUS (CASO 2)'"}],
          "mark": {"type": "line", "strokeWidth": 1, "point": {"filled": true, "shape": "circle", "size": 14}}
        },
        {
          "transform": [{"filter": "datum.s !== 'P1 - ABAQUS (CASO 2)'"}],
          "mark": {"type": "line", "strokeWidth": 1, "point": {"filled": false, "fill": "white", "shape": "square", "size": 18, "strokeWidth": 1}}
        }
      ]
    },
    {
      "data": {"name": "leaders"},
      "mark": {"type": "rule", "color": "#555", "strokeWidth": 1},
      "encoding": {"x2": {"field": "t2"}, "y2": {"field": "T2"}}
    },
    {
      "data": {"name": "ann"},
      "mark": {"type": "text", "font": "Liberation Serif", "fontSize": 20, "color": "#111", "align": "center", "baseline": "middle"},
      "encoding": {"text": {"field": "label"}}
    },
    {
      "data": {"name": "plabels"},
      "mark": {"type": "text", "text": "P", "font": "Liberation Serif", "fontSize": 24, "fontWeight": "bold", "color": "#111", "align": "left", "baseline": "alphabetic"}
    },
    {
      "data": {"name": "plabels"},
      "mark": {"type": "text", "font": "Liberation Serif", "fontSize": 15, "fontWeight": "bold", "color": "#111", "align": "left", "baseline": "alphabetic", "dx": 15, "dy": 3},
      "encoding": {"text": {"field": "sub"}}
    }
  ],
  "resolve": {"scale": {"color": "independent"}},
  "config": {
    "view": {"stroke": "#999", "strokeWidth": 1},
    "axis": {
      "grid": true, "gridColor": "#c8c8c8", "gridDash": [4, 3], "gridWidth": 0.8,
      "domainColor": "#999", "tickColor": "#999", "tickSize": 4,
      "labelFont": "Liberation Sans", "labelFontSize": 10.5, "labelColor": "#222",
      "titleFont": "Liberation Sans", "titleFontSize": 11.5, "titleFontWeight": "bold", "titleColor": "#111"
    },
    "axisX": {"labelPadding": 6, "titlePadding": 7},
    "axisY": {"labelPadding": 5, "titlePadding": 9},
    "legend": {
      "labelFont": "Liberation Sans", "labelFontSize": 12.5, "labelColor": "#222", "labelOffset": 4,
      "rowPadding": 18.5, "padding": 9, "strokeColor": "#111", "strokeWidth": 1.5, "labelLimit": 300
    }
  }
}
